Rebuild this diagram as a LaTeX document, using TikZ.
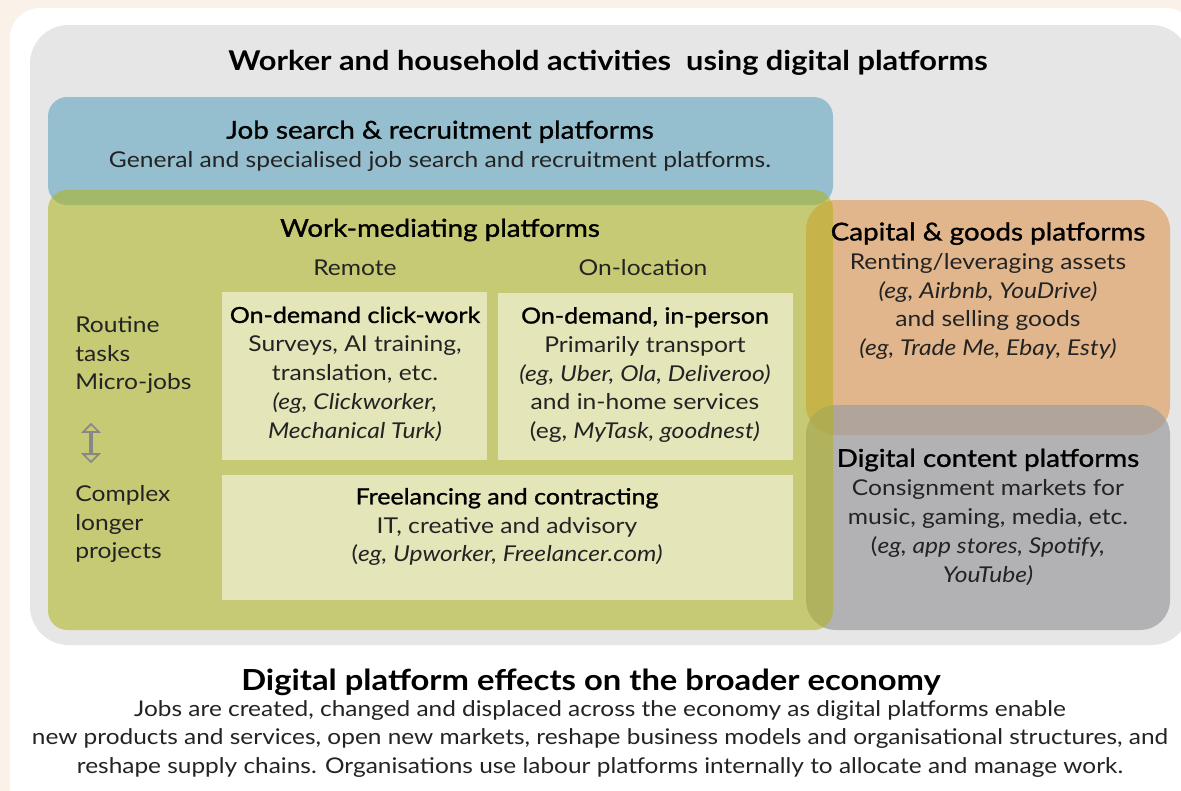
\documentclass[tikz,border=0pt]{standalone}
\usepackage{fontspec}
\setmainfont{Lato}[FakeStretch=1.13]
\newfontfamily\medfont{Lato}[FakeBold=1.2, FakeStretch=1.13]
\usetikzlibrary{shapes.arrows}

\definecolor{creambg}{RGB}{250,241,232}
\definecolor{panelgray}{RGB}{230,230,230}
\definecolor{jobblue}{RGB}{149,191,206}
\definecolor{workgreen}{RGB}{175,179,23}
\definecolor{capitalorange}{RGB}{226,182,140}
\definecolor{contentgray}{RGB}{157,157,160}
\definecolor{innerbox}{RGB}{228,229,185}
\definecolor{textgray}{RGB}{35,35,35}
\definecolor{arrowgray}{RGB}{135,135,135}

\newcommand{\headline}[1]{{\medfont\fontsize{14}{18}\selectfont\color{black}#1}}
\newcommand{\boxhead}[1]{{\medfont\fontsize{12.6}{16.4}\selectfont\color{black}#1}}

\tikzset{
  bodytext/.style={align=center, inner sep=0pt, text=textgray,
    font=\fontsize{12.4}{16.4}\selectfont},
  headtext/.style={inner sep=0pt, text=black,
    font=\medfont\fontsize{14}{18}\selectfont},
  titletext/.style={inner sep=0pt, text=black,
    font=\bfseries\fontsize{15.5}{19}\selectfont},
  rangearrow/.style={double arrow, draw=arrowgray, line width=1pt, rotate=90,
    minimum height=0.76cm, minimum width=0.22cm, inner sep=0pt,
    double arrow head extend=0.14cm}
}

\begin{document}
\begin{tikzpicture}[x=0.02cm, y=-0.02cm]
  \useasboundingbox (0,0) rectangle (1181,791);

  % page and panel
  \fill[creambg] (0,0) rectangle (1181,791);
  \fill[white, rounded corners=17pt] (10,8) rectangle (1196,815);
  \fill[panelgray, rounded corners=22pt] (30,25) rectangle (1190,645);

  % platform areas
  \fill[jobblue, rounded corners=11pt] (48,97) rectangle (833,205);
  \fill[capitalorange, rounded corners=17pt] (806,200) rectangle (1170,435);
  \fill[contentgray, fill opacity=0.7, rounded corners=17pt] (806,405) rectangle (1170,630);
  \fill[workgreen, fill opacity=0.55, rounded corners=11pt] (48,190) rectangle (833,630);

  % work types
  \fill[innerbox] (222,292) rectangle (487,460);
  \fill[innerbox] (498,293) rectangle (793,460);
  \fill[innerbox] (222,475) rectangle (793,600);

  % headings
  \node[titletext] (title) at (608,63) {Worker and household activities\ \ using digital platforms};
  \node[bodytext] (jobs) at (440,146) {\headline{Job search \& recruitment platforms}\\
    General and specialised job search and recruitment platforms.};
  \node[headtext] (work) at (440,230) {Work-mediating platforms};
  \node[bodytext] (remote) at (355,268) {Remote};
  \node[bodytext] (onloc) at (643,268) {On-location};

  % remote and on-location
  \node[bodytext] (click) at (355,374) {\boxhead{On-demand click-work}\\
    Surveys, AI training,\\ translation, etc.\\
    \textit{(eg, Clickworker,}\\ \textit{Mechanical Turk)}};
  \node[bodytext] (person) at (645,375) {\boxhead{On-demand, in-person}\\
    Primarily transport\\ \textit{(eg, Uber, Ola, Deliveroo)}\\
    and in-home services\\ (eg, \textit{MyTask, goodnest)}};
  \node[bodytext] (freelance) at (507,527) {\boxhead{Freelancing and contracting}\\
    IT, creative and advisory\\ (\textit{eg, Upworker, Freelancer.com)}};

  % task scale
  \node[bodytext, align=left, anchor=west] (routine) at (75,355) {Routine\\ tasks\\ Micro-jobs};
  \node[rangearrow] (range) at (91,443) {};
  \node[bodytext, align=left, anchor=west] (complex) at (75,524) {Complex\\ longer\\ projects};

  % capital and content
  \node[bodytext] (capital) at (988,291) {\headline{Capital \& goods platforms}\\
    Renting/leveraging assets\\ \textit{(eg, Airbnb, YouDrive)}\\
    and selling goods\\ \textit{(eg, Trade Me, Ebay, Esty)}};
  \node[bodytext] (content) at (988,517) {\headline{Digital content platforms}\\
    Consignment markets for\\ music, gaming, media, etc.\\
    (\textit{eg, app stores, Spotify,}\\ \textit{YouTube)}};

  % broader economy
  \node[titletext, font=\bfseries\fontsize{16.5}{20}\selectfont] (effects) at (591,682)
    {Digital platform effects on the broader economy};
  \node[bodytext, font=\fontsize{12.3}{16.2}\selectfont] (economy) at (600,739)
    {Jobs are created, changed and displaced across the economy as digital platforms enable\\
    new products and services, open new markets, reshape business models and organisational structures, and\\
    reshape supply chains. Organisations use labour platforms internally to allocate and manage work.};
\end{tikzpicture}
\end{document}
